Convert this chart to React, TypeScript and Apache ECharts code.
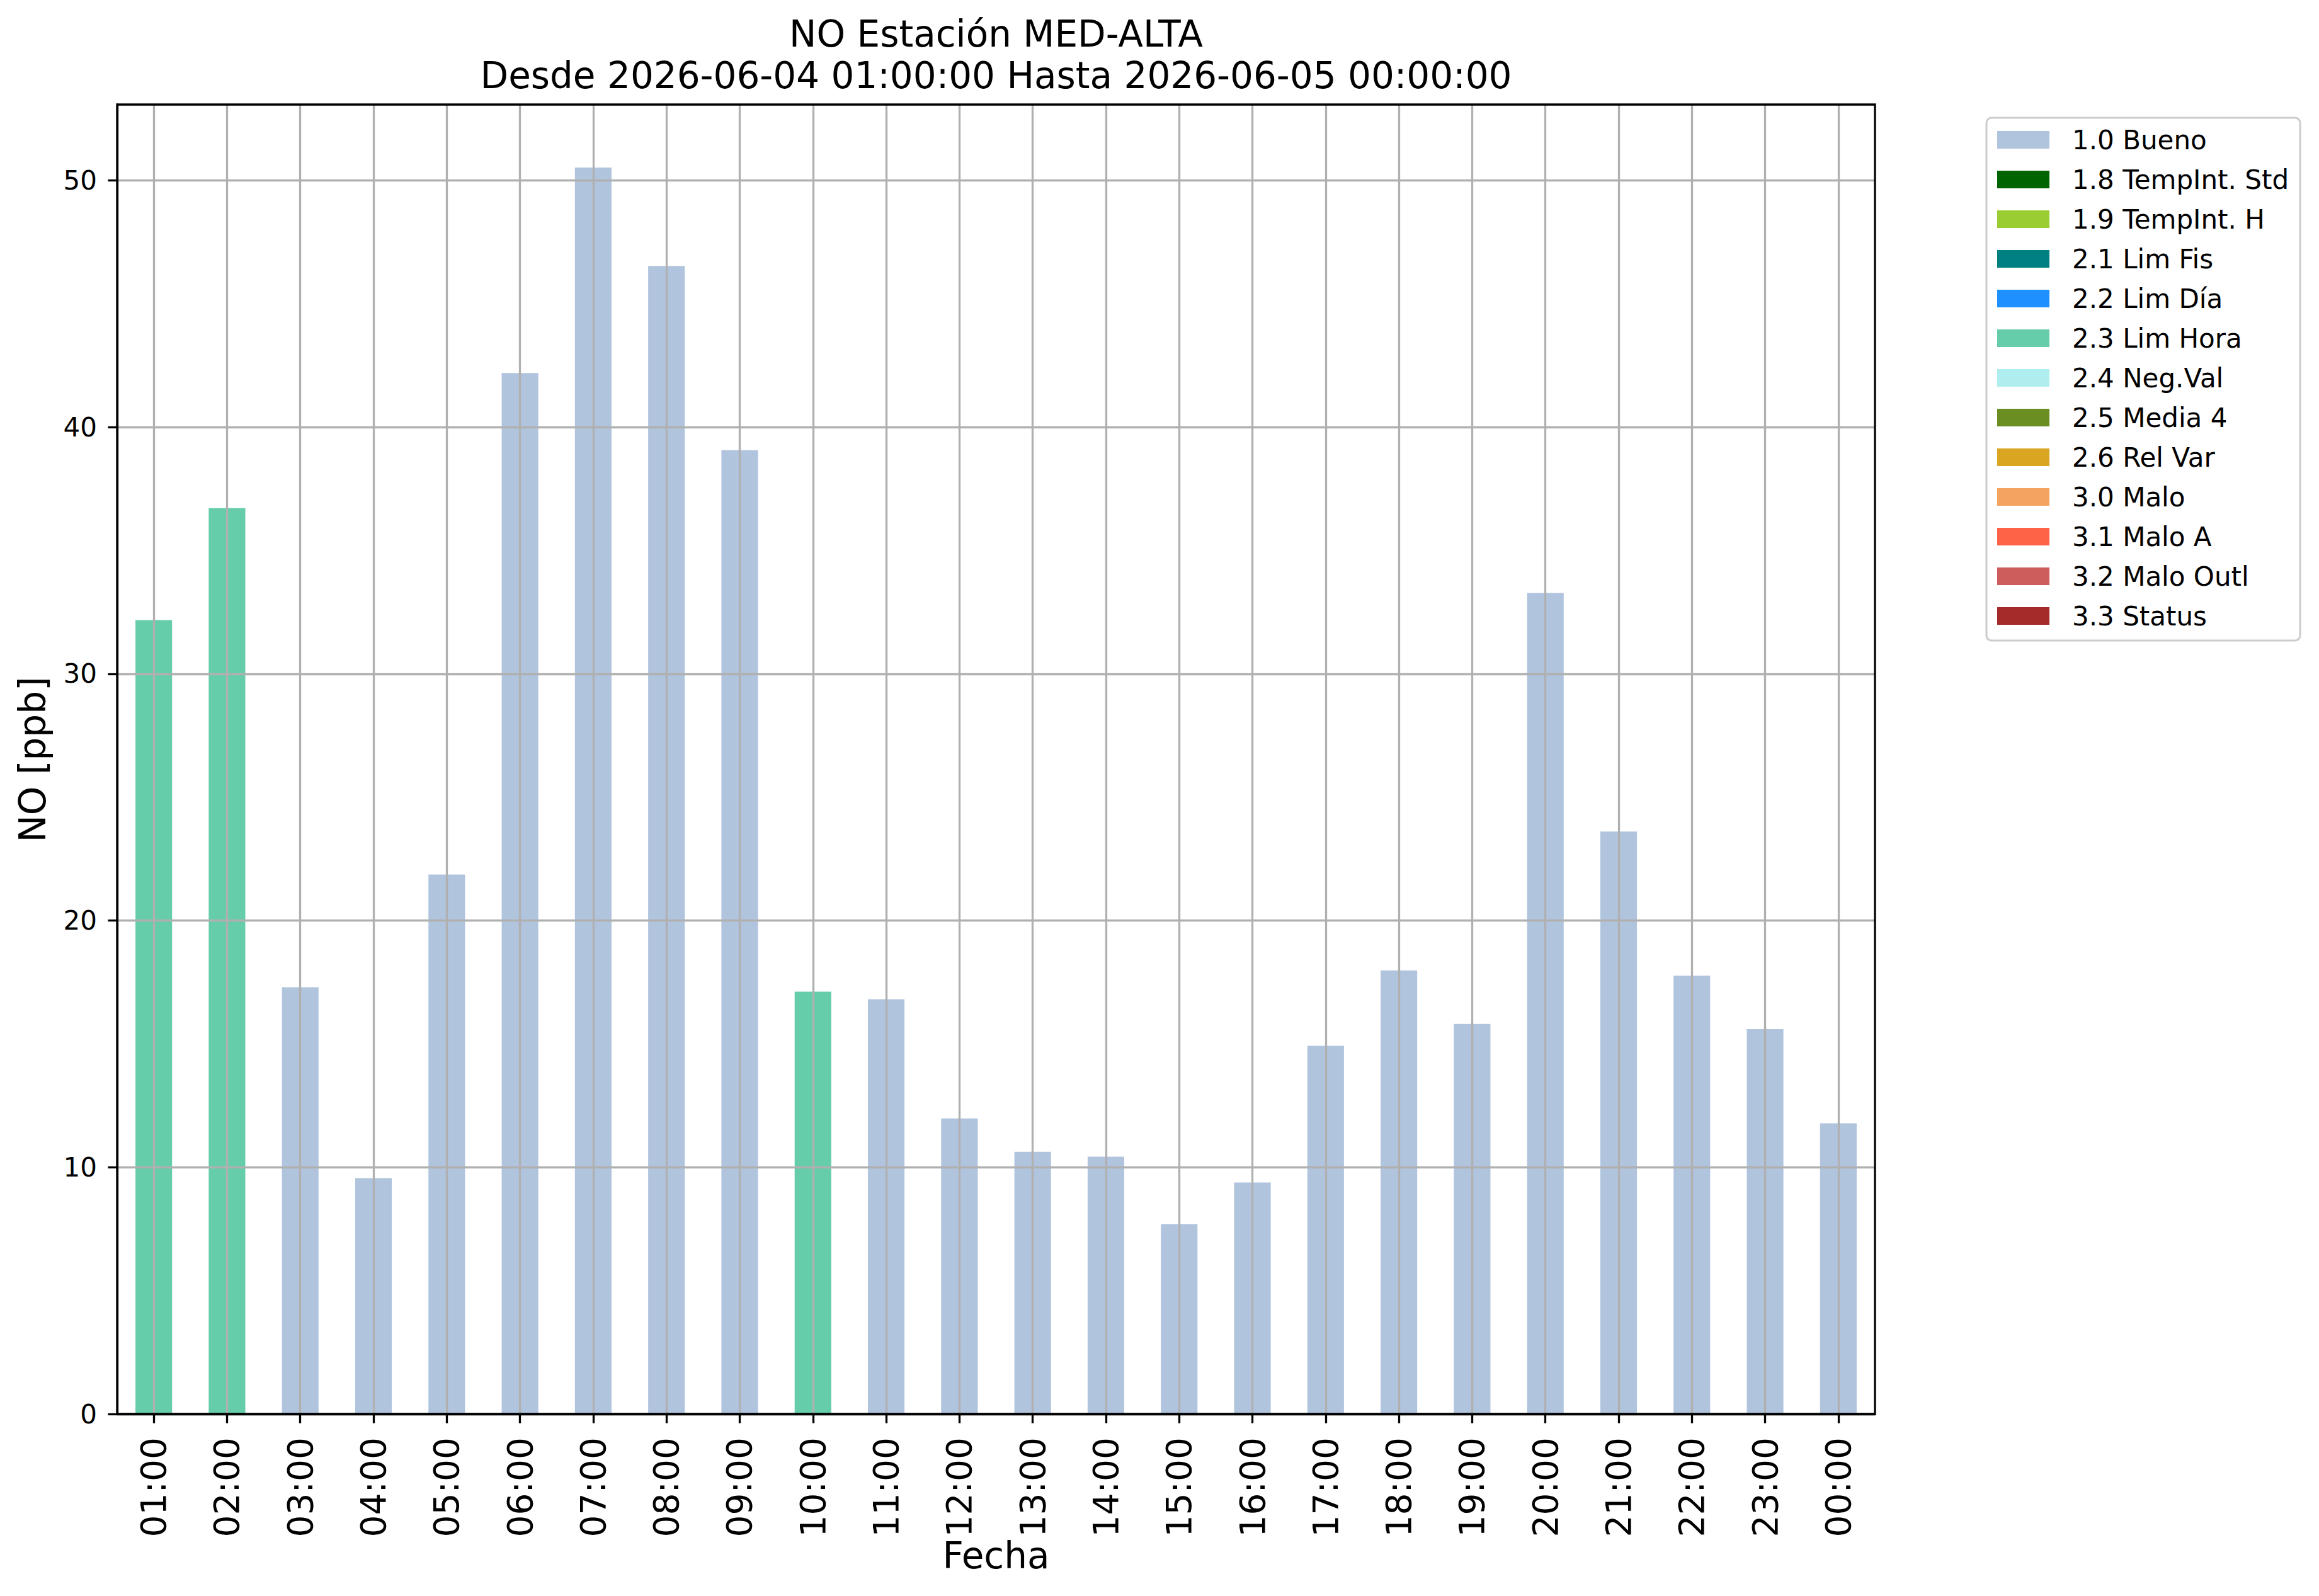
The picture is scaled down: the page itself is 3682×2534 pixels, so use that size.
import React, { useEffect, useRef } from "react";
import * as echarts from "echarts";

const categories = [
  "01:00", "02:00", "03:00", "04:00", "05:00", "06:00", "07:00", "08:00",
  "09:00", "10:00", "11:00", "12:00", "13:00", "14:00", "15:00", "16:00",
  "17:00", "18:00", "19:00", "20:00", "21:00", "22:00", "23:00", "00:00",
];

const values = [
  32.18, 36.72, 17.3, 9.56, 21.87, 42.2, 50.53, 46.54, 39.07, 17.12, 16.81, 11.98,
  10.63, 10.43, 7.7, 9.38, 14.92, 17.98, 15.81, 33.28, 23.61, 17.77, 15.6, 11.78,
];

const barFlags = [
  "2.3 Lim Hora", "2.3 Lim Hora", "1.0 Bueno", "1.0 Bueno", "1.0 Bueno", "1.0 Bueno",
  "1.0 Bueno", "1.0 Bueno", "1.0 Bueno", "2.3 Lim Hora", "1.0 Bueno", "1.0 Bueno",
  "1.0 Bueno", "1.0 Bueno", "1.0 Bueno", "1.0 Bueno", "1.0 Bueno", "1.0 Bueno",
  "1.0 Bueno", "1.0 Bueno", "1.0 Bueno", "1.0 Bueno", "1.0 Bueno", "1.0 Bueno",
];

const qualityCodes = [
  "1.0 Bueno", "1.8 TempInt. Std", "1.9 TempInt. H", "2.1 Lim Fis", "2.2 Lim Día",
  "2.3 Lim Hora", "2.4 Neg.Val", "2.5 Media 4", "2.6 Rel Var", "3.0 Malo",
  "3.1 Malo A", "3.2 Malo Outl", "3.3 Status",
];

const qualityColors = [
  "#B0C4DE", "#006400", "#9ACD32", "#008080", "#1E90FF", "#66CDAA", "#AFEEEE",
  "#6B8E23", "#DAA520", "#F4A460", "#FF6347", "#CD5C5C", "#A52A2A",
];

const yTicks = [0, 10, 20, 30, 40, 50];
const yMax = 53.08;

const titleLines = ["NO Estación MED-ALTA", "Desde 2026-06-04 01:00:00 Hasta 2026-06-05 00:00:00"];
const xName = "Fecha";
const yName = "NO [ppb]";

const FONT = "DejaVu Sans";

export default function App() {
  const ref = useRef<HTMLDivElement>(null);

  useEffect(() => {
    if (!ref.current) return;
    const chart = echarts.init(ref.current, null, { renderer: "svg" });

    const gridLeft = 186;
    const gridTop = 166;
    const gridRight = 2977;
    const gridBottom = 2245;
    const cx = (gridLeft + gridRight) / 2;

    const series: any[] = qualityCodes.map((name, k) => ({
      type: "bar",
      name,
      stack: "total",
      barWidth: "50%",
      itemStyle: { color: qualityColors[k] },
      emphasis: { disabled: true },
      data: values.map((v, i) => (barFlags[i] === name ? v : "-")),
    }));

    series[0].markLine = {
      silent: true,
      symbol: ["none", "none"],
      label: { show: false },
      emphasis: { disabled: true },
      lineStyle: { color: "#b0b0b0", width: 3.3, type: "solid" },
      data: [
        ...categories.map((c) => ({ xAxis: c })),
        ...yTicks.map((v) => ({ yAxis: v })),
      ],
    };

    chart.setOption({
      animation: false,
      backgroundColor: "#ffffff",
      textStyle: { fontFamily: FONT },
      grid: {
        left: gridLeft,
        top: gridTop,
        width: gridRight - gridLeft,
        height: gridBottom - gridTop,
        show: true,
        borderColor: "#000000",
        borderWidth: 3.3,
        backgroundColor: "transparent",
        containLabel: false,
        outerBoundsMode: "none",
        z: 10,
      },
      xAxis: {
        type: "category",
        data: categories,
        boundaryGap: true,
        z: 10,
        axisLine: { show: true, lineStyle: { color: "#000", width: 3.3 } },
        axisTick: { show: true, alignWithLabel: true, length: 14.6, lineStyle: { color: "#000", width: 3.3 } },
        axisLabel: {
          interval: 0,
          rotate: 90,
          margin: 37,
          fontSize: 55,
          fontFamily: FONT,
          color: "#000",
        },
        splitLine: { show: false },
      },
      yAxis: {
        type: "value",
        min: 0,
        max: yMax,
        interval: 10,
        z: 10,
        axisLine: { show: true, lineStyle: { color: "#000", width: 3.3 } },
        axisTick: { show: true, length: 14.6, lineStyle: { color: "#000", width: 3.3 }, customValues: yTicks },
        axisLabel: {
          margin: 32,
          fontSize: 42,
          fontFamily: FONT,
          color: "#000",
          customValues: yTicks,
        },
        splitLine: { show: false },
      },
      legend: {
        show: true,
        data: qualityCodes,
        orient: "vertical",
        left: 3154,
        top: 187,
        icon: "rect",
        itemWidth: 83,
        itemHeight: 28,
        itemGap: 21,
        selectedMode: false,
        padding: [14, 18, 18, 17],
        borderColor: "#cccccc",
        borderWidth: 3,
        borderRadius: 8,
        backgroundColor: "#ffffff",
        textStyle: {
          fontSize: 42,
          lineHeight: 42,
          fontFamily: FONT,
          color: "#000",
          padding: [0, 0, 0, 31],
        },
      },
      graphic: [
        {
          type: "text",
          x: cx,
          y: 54,
          style: { text: titleLines[0], font: `58px '${FONT}'`, fill: "#000", align: "center", verticalAlign: "middle" },
        },
        {
          type: "text",
          x: cx,
          y: 120,
          style: { text: titleLines[1], font: `58px '${FONT}'`, fill: "#000", align: "center", verticalAlign: "middle" },
        },
        {
          type: "text",
          x: cx,
          y: 2470,
          style: { text: xName, font: `58px '${FONT}'`, fill: "#000", align: "center", verticalAlign: "middle" },
        },
        {
          type: "text",
          x: 52,
          y: 1206,
          rotation: Math.PI / 2,
          style: { text: yName, font: `58px '${FONT}'`, fill: "#000", align: "center", verticalAlign: "middle" },
        },
      ],
      series,
    });

    return () => chart.dispose();
  }, []);

  return (
    <div
      ref={ref}
      style={{ position: "fixed", left: 0, top: 0, width: 3682, height: 2534, background: "#fff" }}
    />
  );
}
